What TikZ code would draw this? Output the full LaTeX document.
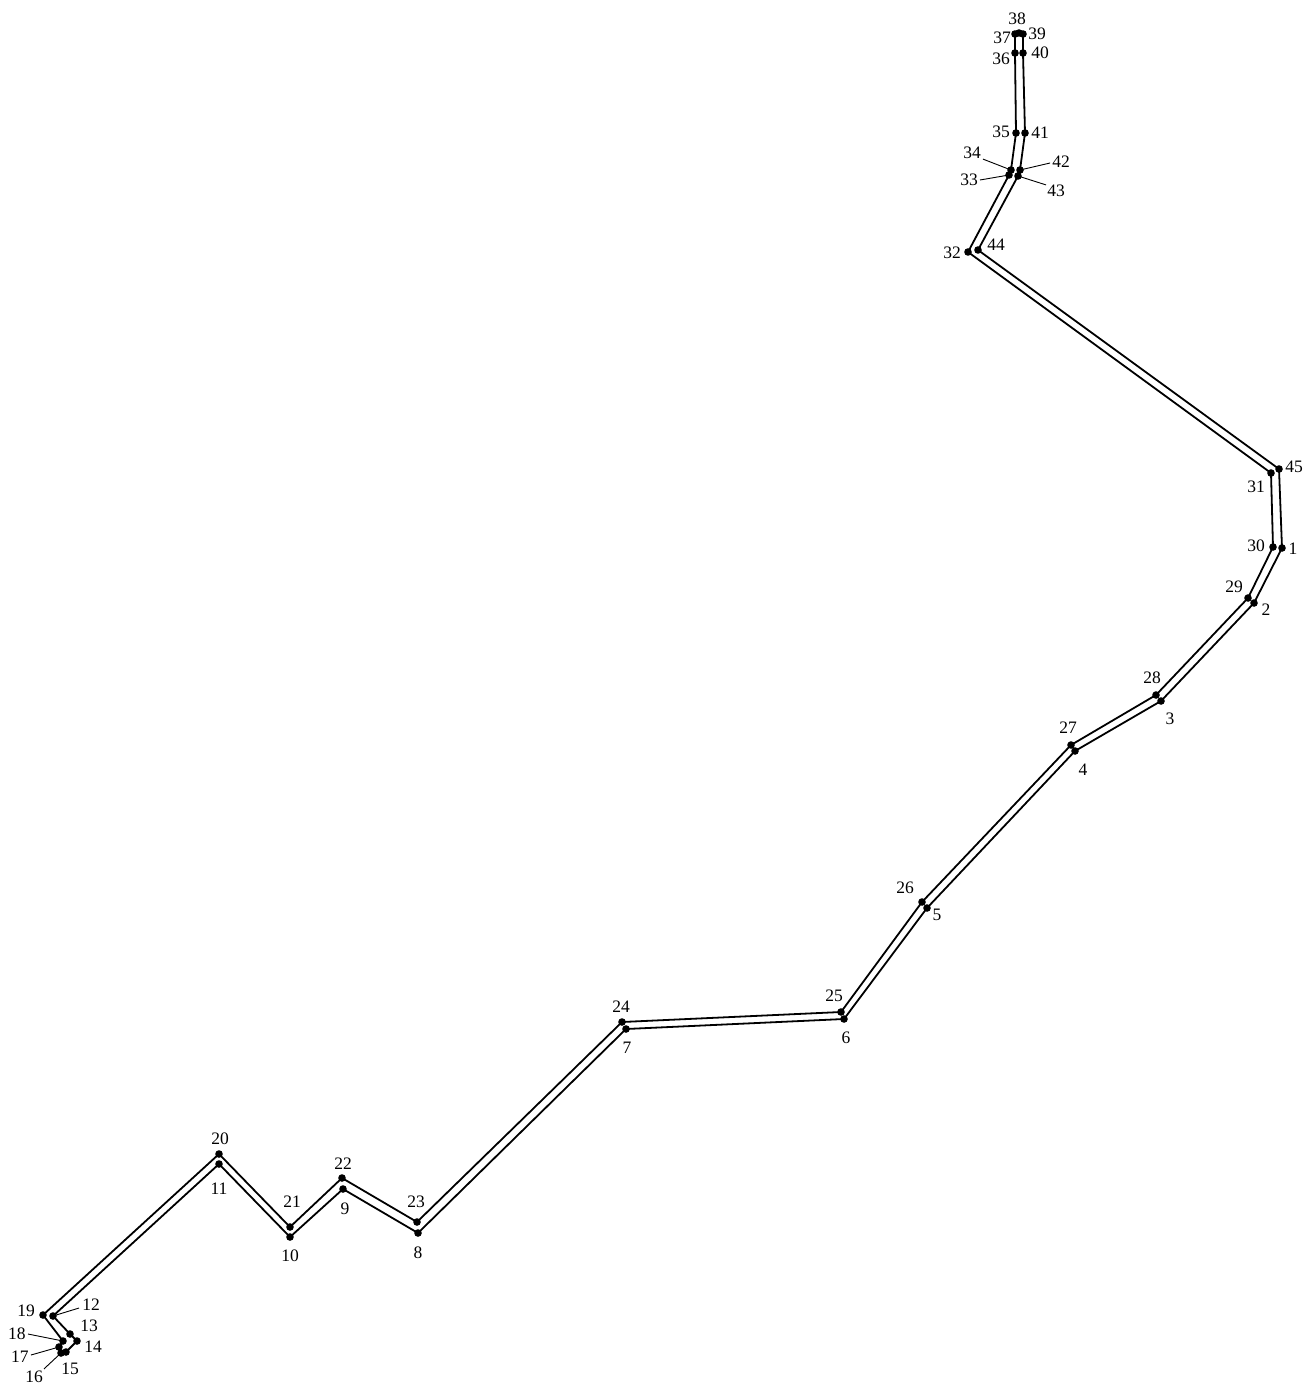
\documentclass[tikz,border=0pt]{standalone}
\usepackage{fontspec}
\setmainfont{Liberation Serif}
\begin{document}
\begin{tikzpicture}[x=1pt,y=-1pt,
  strip/.style={draw=black,line width=1.8pt,line join=round},
  dot/.style={fill=black},
  lbl/.style={inner sep=0pt,font=\fontsize{17.5}{17.5}\selectfont},
  leader/.style={draw=black,line width=0.9pt}]
\useasboundingbox (0,0) rectangle (1306,1385);
% vertices
\coordinate (p1) at (1282,548);
\coordinate (p2) at (1254,603);
\coordinate (p3) at (1161,701);
\coordinate (p4) at (1075,751);
\coordinate (p5) at (927,908);
\coordinate (p6) at (844,1019);
\coordinate (p7) at (626,1029);
\coordinate (p8) at (418,1233);
\coordinate (p9) at (343,1189);
\coordinate (p10) at (290,1237);
\coordinate (p11) at (219,1164);
\coordinate (p12) at (53,1316);
\coordinate (p13) at (70,1334);
\coordinate (p14) at (77,1341);
\coordinate (p15) at (66,1352);
\coordinate (p16) at (61,1353);
\coordinate (p17) at (59,1347);
\coordinate (p18) at (63,1341);
\coordinate (p19) at (43,1315);
\coordinate (p20) at (219,1154);
\coordinate (p21) at (290,1227);
\coordinate (p22) at (342,1178);
\coordinate (p23) at (417,1222);
\coordinate (p24) at (622,1022);
\coordinate (p25) at (841,1012);
\coordinate (p26) at (922,902);
\coordinate (p27) at (1071,745);
\coordinate (p28) at (1156,695);
\coordinate (p29) at (1248,598);
\coordinate (p30) at (1273,547);
\coordinate (p31) at (1271,473);
\coordinate (p32) at (968,252);
\coordinate (p33) at (1009,175);
\coordinate (p34) at (1011,170);
\coordinate (p35) at (1016,133);
\coordinate (p36) at (1015,53);
\coordinate (p37) at (1015,34);
\coordinate (p38) at (1019,33);
\coordinate (p39) at (1023,34);
\coordinate (p40) at (1023,53);
\coordinate (p41) at (1025,133);
\coordinate (p42) at (1020,170);
\coordinate (p43) at (1018,176);
\coordinate (p44) at (978,250);
\coordinate (p45) at (1279,469);
% outline
\draw[strip] (p1) -- (p2) -- (p3) -- (p4) -- (p5) -- (p6) -- (p7) -- (p8) -- (p9)
  -- (p10) -- (p11) -- (p12) -- (p13) -- (p14) -- (p15) -- (p16) -- (p17) -- (p18)
  -- (p19) -- (p20) -- (p21) -- (p22) -- (p23) -- (p24) -- (p25) -- (p26) -- (p27)
  -- (p28) -- (p29) -- (p30) -- (p31) -- (p32) -- (p33) -- (p34) -- (p35) -- (p36)
  -- (p37) -- (p38) -- (p39) -- (p40) -- (p41) -- (p42) -- (p43) -- (p44) -- (p45) -- cycle;
% dots
\foreach \i in {1,...,45} { \fill[dot] (p\i) circle (3.8pt); }
% labels
\node[lbl] (l1) at (1293,549) {1};
\node[lbl] (l2) at (1266,610) {2};
\node[lbl] (l3) at (1170,719) {3};
\node[lbl] (l4) at (1083,770) {4};
\node[lbl] (l5) at (937,915) {5};
\node[lbl] (l6) at (846,1038) {6};
\node[lbl] (l7) at (627,1048) {7};
\node[lbl] (l8) at (418,1253) {8};
\node[lbl] (l9) at (345,1209) {9};
\node[lbl] (l10) at (290,1256) {10};
\node[lbl] (l11) at (219,1189) {11};
\node[lbl] (l12) at (91,1305) {12};
\node[lbl] (l13) at (89,1326) {13};
\node[lbl] (l14) at (93,1347) {14};
\node[lbl] (l15) at (70,1369) {15};
\node[lbl] (l16) at (34,1377) {16};
\node[lbl] (l17) at (20,1357) {17};
\node[lbl] (l18) at (17,1334) {18};
\node[lbl] (l19) at (26,1311) {19};
\node[lbl] (l20) at (220,1139) {20};
\node[lbl] (l21) at (292,1202) {21};
\node[lbl] (l22) at (343,1164) {22};
\node[lbl] (l23) at (416,1202) {23};
\node[lbl] (l24) at (621,1007) {24};
\node[lbl] (l25) at (834,996) {25};
\node[lbl] (l26) at (905,888) {26};
\node[lbl] (l27) at (1068,728) {27};
\node[lbl] (l28) at (1152,678) {28};
\node[lbl] (l29) at (1234,587) {29};
\node[lbl] (l30) at (1256,546) {30};
\node[lbl] (l31) at (1256,487) {31};
\node[lbl] (l32) at (952,253) {32};
\node[lbl] (l33) at (969,180) {33};
\node[lbl] (l34) at (972,153) {34};
\node[lbl] (l35) at (1001,132) {35};
\node[lbl] (l36) at (1001,59) {36};
\node[lbl] (l37) at (1002,38) {37};
\node[lbl] (l38) at (1017,19) {38};
\node[lbl] (l39) at (1037,34) {39};
\node[lbl] (l40) at (1040,53) {40};
\node[lbl] (l41) at (1040,133) {41};
\node[lbl] (l42) at (1061,162) {42};
\node[lbl] (l43) at (1056,191) {43};
\node[lbl] (l44) at (996,245) {44};
\node[lbl] (l45) at (1294,467) {45};
% leader lines
\draw[leader] (l12.west) ++(-3,3) -- (p12);
\draw[leader] (l18.east) ++(2,0) -- (p18);
\draw[leader] (l17.east) ++(2,-2) -- (p17);
\draw[leader] (l16.north east) ++(1,-2) -- (p16);
\draw[leader] (l34.south east) ++(2,0) -- (p34);
\draw[leader] (l33.east) ++(2,0) -- (p33);
\draw[leader] (l42.west) ++(-2,1) -- (p42);
\draw[leader] (l43.north west) ++(-1,0) -- (p43);
\end{tikzpicture}
\end{document}
